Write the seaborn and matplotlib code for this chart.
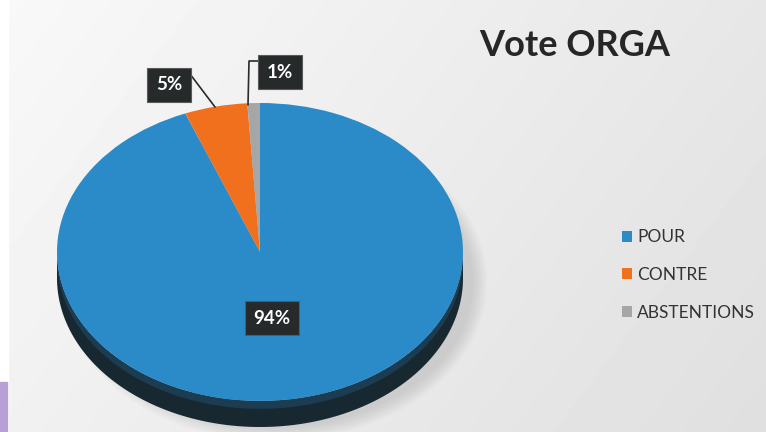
import numpy as np
import matplotlib
matplotlib.use('Agg')
import matplotlib.pyplot as plt
import seaborn as sns
from matplotlib.patches import Polygon, Ellipse, Rectangle

# ---- data ----
categories = ['POUR', 'CONTRE', 'ABSTENTIONS']
values = [94, 5, 1]
pct_labels = ['94%', '5%', '1%']
title = 'Vote ORGA'

sns.set_style('white')
plt.rcParams['font.family'] = ['Lato', 'DejaVu Sans']
colors = sns.color_palette(['#2a8bc8', '#f0701e', '#a6a6a6'])

W, H = 766, 432
fig = plt.figure(figsize=(7.66, 4.32), dpi=100)

# background axes in pixel coordinates
bg = fig.add_axes([0, 0, 1, 1])
bg.set_xlim(0, W)
bg.set_ylim(H, 0)
bg.axis('off')
yy, xx = np.mgrid[0:H, 0:W]
g = 0.975 - 0.07 * (xx / W) - 0.03 * (yy / H)
bg.imshow(g, cmap='gray', vmin=0, vmax=1, extent=(0, W, H, 0), aspect='auto', zorder=0)
bg.add_patch(Rectangle((0, 0), 8, H, color='white', zorder=1))
bg.add_patch(Rectangle((0, 382), 7, H - 382, color='#b89fd6', zorder=2))

# pie geometry (pixels)
cx, cy, rx, ry, depth = 260, 252, 203, 149, 26
# soft shadow
for i in range(8):
    bg.add_patch(Ellipse((cx + 14, cy + 30), 2 * rx + 20 - 4 * i, 2 * ry + 20 - 4 * i,
                         color='#808080', alpha=0.035, lw=0, zorder=2))

# pie axes
top, bottom = cy - ry, cy + ry + depth + 6
ax = fig.add_axes([(cx - rx) / W, (H - bottom) / H, 2 * rx / W, (bottom - top) / H])
ax.patch.set_alpha(0)
dd = (bottom - (cy + ry)) / ry
d = depth / ry

# side of the 3D pie
t = np.linspace(np.pi, 2 * np.pi, 200)
xs = np.concatenate([np.cos(t), np.cos(t[::-1])])
ys = np.concatenate([np.sin(t), np.sin(t[::-1]) - d])
ax.add_patch(Polygon(np.column_stack([xs, ys]), closed=True, fc='#182830', ec='none', zorder=1))
ys2 = np.concatenate([np.sin(t), np.sin(t[::-1]) - d * 0.3])
ax.add_patch(Polygon(np.column_stack([xs, ys2]), closed=True, fc='#1c3c52', ec='none', zorder=1))

wedges, _ = ax.pie(values, colors=colors, startangle=90, counterclock=False,
                   radius=1, center=(0, 0), wedgeprops=dict(linewidth=0, zorder=2))
ax.set_aspect('auto')
ax.set_xlim(-1, 1)
ax.set_ylim(-1 - dd, 1)
ax.axis('off')

# foreground overlay for labels and title
fg = fig.add_axes([0, 0, 1, 1])
fg.set_xlim(0, W)
fg.set_ylim(H, 0)
fg.axis('off')
fg.patch.set_alpha(0)

box = dict(boxstyle='square,pad=0.45', fc='#262a2a', ec='#5a5a5a', lw=0.8)
label_pos = {'94%': (272, 318), '5%': (169, 85), '1%': (280, 72)}
for lab in pct_labels:
    x, y = label_pos[lab]
    fg.text(x, y, lab, ha='center', va='center', fontsize=13.5, weight='bold',
            color='white', bbox=box, zorder=10)
fg.plot([190, 215], [74, 107], color='#2a2a2a', lw=1.2, zorder=9)
fg.plot([259, 249, 248], [61, 61, 105], color='#2a2a2a', lw=1.2, zorder=9)

# title
fg.text(575, 46, title, ha='center', va='center', fontsize=26, weight='bold',
        color='#262626', zorder=10)

# legend
leg = fig.legend(wedges, categories, loc='center left',
                 bbox_to_anchor=(606 / W, 1 - 275 / H), frameon=False,
                 fontsize=12.5, labelspacing=1.25, handlelength=0.6, handleheight=0.6,
                 handletextpad=0.3)
for txt in leg.get_texts():
    txt.set_color('#333333')

fig.savefig('out.png', dpi=100)
